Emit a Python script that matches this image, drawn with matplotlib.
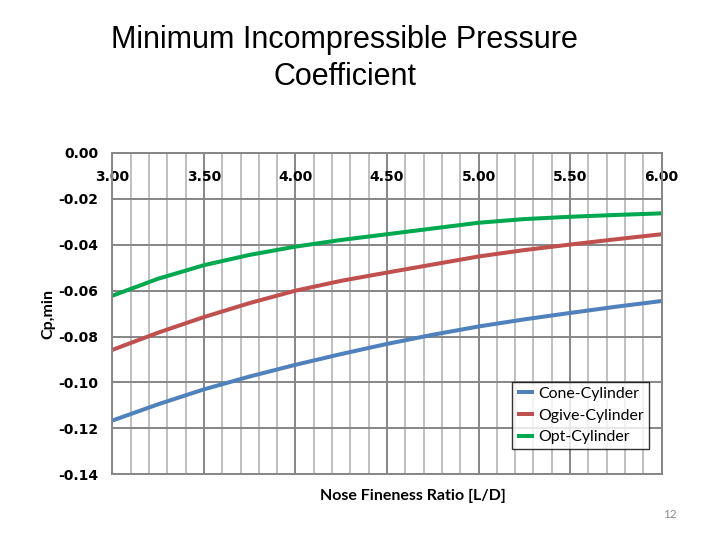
import matplotlib
matplotlib.use("Agg")
import matplotlib.pyplot as plt
from matplotlib.ticker import MultipleLocator

# ── data ──────────────────────────────────────────────────────────────────────
fineness = [3.00, 3.25, 3.50, 3.75, 4.00, 4.25, 4.50, 4.75, 5.00, 5.25, 5.50, 5.75, 6.00]
cone_cyl = [-0.1166, -0.1095, -0.1030, -0.0974, -0.0923, -0.0876, -0.0832,
            -0.0792, -0.0756, -0.0725, -0.0697, -0.0670, -0.0645]
ogive_cyl = [-0.0858, -0.0783, -0.0715, -0.0654, -0.0600, -0.0557, -0.0521,
             -0.0486, -0.0451, -0.0423, -0.0399, -0.0376, -0.0354]
opt_cyl = [-0.0622, -0.0548, -0.0489, -0.0444, -0.0408, -0.0379, -0.0354,
           -0.0329, -0.0304, -0.0288, -0.0278, -0.0270, -0.0263]

series_names = ["Cone-Cylinder", "Ogive-Cylinder", "Opt-Cylinder"]
series_colors = ["#4F81BD", "#C0504D", "#00A850"]

fig = plt.figure(figsize=(7.2, 5.4), dpi=100)
ax = fig.add_axes([0.156, 0.1217, 0.763, 0.595])

for y, name, c in zip([cone_cyl, ogive_cyl, opt_cyl], series_names, series_colors):
    ax.plot(fineness, y, color=c, lw=2.9, label=name, solid_capstyle="butt",
            solid_joinstyle="round")

ax.set_xlim(3.0, 6.0)
ax.set_ylim(-0.14, 0.0)
ax.xaxis.set_major_locator(MultipleLocator(0.5))
ax.xaxis.set_minor_locator(MultipleLocator(0.1))
ax.yaxis.set_major_locator(MultipleLocator(0.02))
ax.xaxis.set_major_formatter(lambda v, p: f"{v:.2f}")
ax.yaxis.set_major_formatter(lambda v, p: f"{v:.2f}")

ax.grid(which="minor", axis="x", color="#BFBFBF", lw=1.4)
ax.grid(which="major", axis="both", color="#868686", lw=1.4)
ax.set_axisbelow(True)
for s in ax.spines.values():
    s.set_color("#868686")
    s.set_linewidth(1.4)

# x labels sit just under the 0.00 line, inside the plot
ax.xaxis.set_ticks_position("top")
ax.tick_params(axis="x", which="both", length=0, pad=-22, labelsize=10,
               labeltop=True, labelbottom=False)
ax.tick_params(axis="y", length=0, pad=10, labelsize=10)
for lab in ax.get_xticklabels() + ax.get_yticklabels():
    lab.set_fontweight("bold")
    lab.set_family("DejaVu Sans")

ax.set_ylabel("Cp,min", family="Lato", fontweight="bold", fontsize=11.5, labelpad=2)

fig.text(413 / 720, 1 - 496 / 540, "Nose Fineness Ratio [L/D]", family="Lato",
         fontweight="bold", fontsize=11.5, ha="center", va="center")

fig.text(0.479, 0.953, "Minimum Incompressible Pressure\nCoefficient",
         family="Liberation Sans", fontsize=22, ha="center", va="top",
         linespacing=1.3)

fig.text(670 / 720, 1 - 515 / 540, "12", color="#8C8C8C", fontsize=8.5,
         family="Lato", ha="center", va="center")

leg = ax.legend(loc="upper left", bbox_to_anchor=(0.7275, 0.287), borderaxespad=0,
                prop={"family": "Lato", "size": 11.4}, frameon=True, fancybox=False,
                handlelength=1.1, handletextpad=0.25, borderpad=0.3,
                labelspacing=0.48)
leg.get_frame().set_edgecolor("black")
leg.get_frame().set_linewidth(1.0)

fig.savefig("out.png", dpi=100)
